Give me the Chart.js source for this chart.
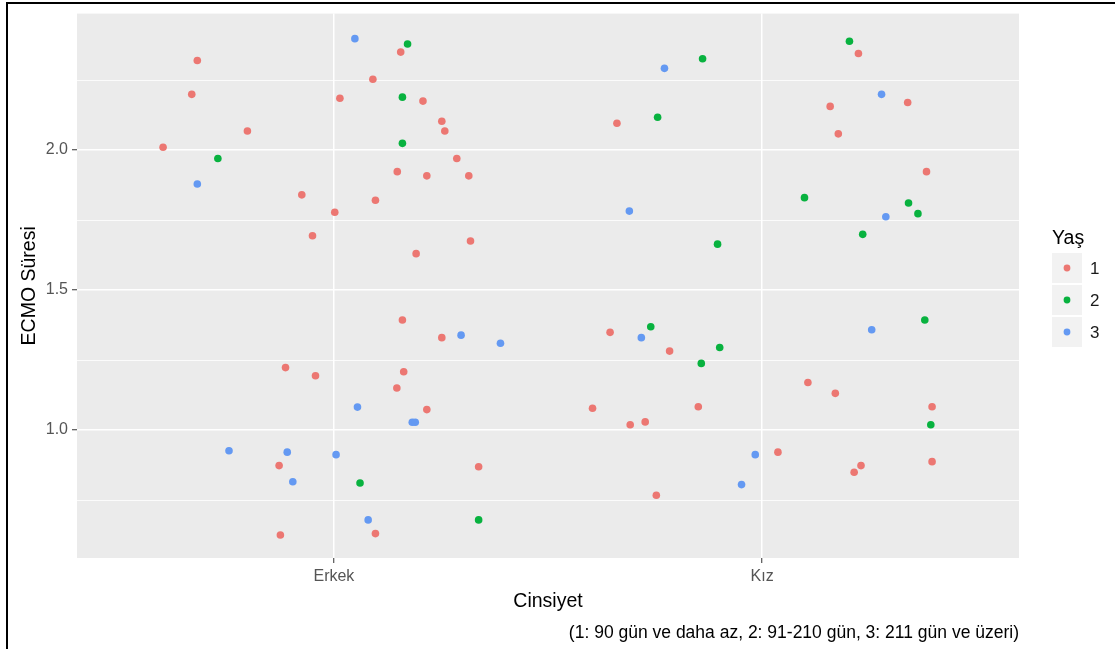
<!DOCTYPE html>
<html>
<head>
<meta charset="utf-8">
<script src="https://cdn.jsdelivr.net/npm/chart.js@4/dist/chart.umd.min.js"></script>
<style>
  html, body { margin: 0; padding: 0; background: #fff; }
  #wrap { position: relative; width: 1115px; height: 649px; overflow: hidden; }
  #frame { position: absolute; left: 6px; top: 2px; width: 2000px; height: 2000px;
           border-left: 2px solid #000; border-top: 2px solid #000; pointer-events: none; }
  canvas { position: absolute; left: 0; top: 0; }
</style>
</head>
<body>
<div id="wrap">
  <canvas id="c" width="1115" height="649"></canvas>
  <div id="frame"></div>
</div>
<script>
// ---- data ----
const categories = ['Erkek', 'Kız'];           // x positions 1 and 2 (points are jittered)
const groupLabels = ['1', '2', '3'];            // Yaş
const yTickLabels = [1.0, 1.5, 2.0];
const yMinorTicks = [0.75, 1.25, 1.75, 2.25];

const yas1X = [0.681,0.668,0.798,0.601,0.925,1.002,0.950,1.091,1.014,1.097,1.156,1.208,1.252,1.259,1.287,1.148,1.217,1.315,1.319,1.192,1.661,0.887,0.957,0.872,0.875,1.097,1.160,1.252,1.163,1.147,1.217,1.338,1.645,1.784,1.604,1.851,1.692,1.727,1.753,2.225,2.159,2.340,2.178,2.384,2.107,2.171,2.397,2.037,2.215,2.231,2.397];
const yas1Y = [2.320,2.199,2.068,2.010,1.840,1.778,1.694,2.253,2.185,1.821,2.350,2.175,2.103,2.068,1.970,1.923,1.908,1.908,1.675,1.630,2.096,1.223,1.194,0.873,0.625,0.630,1.393,1.330,1.208,1.150,1.073,0.869,1.349,1.282,1.078,1.083,1.019,1.029,0.767,2.345,2.156,2.170,2.058,1.923,1.170,1.131,1.083,0.921,0.849,0.873,0.887];

const yas2X = [0.729,1.172,1.160,1.160,1.061,1.338,1.756,1.861,2.204,2.099,2.342,2.364,2.235,1.896,1.740,1.858,1.901,2.380,2.394];
const yas2Y = [1.970,2.379,2.189,2.024,0.811,0.679,2.117,2.326,2.389,1.830,1.811,1.773,1.699,1.664,1.369,1.238,1.295,1.393,1.019];

const yas3X = [0.681,1.049,1.055,0.755,0.891,1.005,0.904,1.080,1.297,1.389,1.183,1.190,1.690,1.772,1.718,2.279,2.289,2.256,1.984,1.952];
const yas3Y = [1.879,2.398,1.082,0.926,0.921,0.912,0.815,0.679,1.339,1.310,1.028,1.028,1.782,2.292,1.330,2.199,1.762,1.358,0.912,0.805];

const colors = ['#EC7772', '#08B23F', '#6499F2'];
const xTitle = 'Cinsiyet';
const yTitle = 'ECMO Süresi';
const legendTitle = 'Yaş';
const caption = '(1: 90 gün ve daha az, 2: 91-210 gün, 3: 211 gün ve üzeri)';

function pts(xs, ys) { return xs.map((x, i) => ({ x: x, y: ys[i] })); }

const FONT = '"Liberation Sans", Arial, sans-serif';

const panelBg = {
  id: 'panelBg',
  beforeDraw(chart) {
    const { ctx, chartArea: a } = chart;
    ctx.save();
    ctx.fillStyle = '#EBEBEB';
    ctx.fillRect(a.left, a.top, a.right - a.left, a.bottom - a.top);
    ctx.restore();
  }
};

const extras = {
  id: 'extras',
  afterDraw(chart) {
    const { ctx, chartArea: a } = chart;
    ctx.save();
    // caption
    ctx.fillStyle = '#000';
    ctx.font = '17.5px ' + FONT;
    ctx.textAlign = 'right';
    ctx.textBaseline = 'middle';
    ctx.fillText(caption, a.right, 633);
    // legend
    ctx.textAlign = 'left';
    ctx.font = '19.5px ' + FONT;
    ctx.fillText(legendTitle, 1052, 239);
    const keyX = 1052, keyW = 30, keyH = 30, rowY = [268, 300, 332];
    groupLabels.forEach((lab, i) => {
      ctx.fillStyle = '#F2F2F2';
      ctx.fillRect(keyX, rowY[i] - keyH / 2, keyW, keyH);
      ctx.fillStyle = colors[i];
      ctx.beginPath();
      ctx.arc(keyX + keyW / 2, rowY[i], 3.4, 0, Math.PI * 2);
      ctx.fill();
      ctx.fillStyle = '#1A1A1A';
      ctx.font = '17px ' + FONT;
      ctx.fillText(lab, 1090, rowY[i] + 1);
    });
    ctx.restore();
  }
};

new Chart(document.getElementById('c'), {
  type: 'scatter',
  data: {
    datasets: [
      { label: groupLabels[0], data: pts(yas1X, yas1Y), backgroundColor: colors[0] },
      { label: groupLabels[1], data: pts(yas2X, yas2Y), backgroundColor: colors[1] },
      { label: groupLabels[2], data: pts(yas3X, yas3Y), backgroundColor: colors[2] }
    ]
  },
  options: {
    responsive: false,
    animation: false,
    devicePixelRatio: 1,
    layout: { padding: { top: 13.5, right: 96, left: 0, bottom: 0 } },
    elements: { point: { radius: 3.8, borderWidth: 0, hoverRadius: 3.8 } },
    plugins: { legend: { display: false }, tooltip: { enabled: false } },
    scales: {
      x: {
        type: 'linear',
        min: 0.4, max: 2.6,
        afterFit(s) { s.height = 91; },
        afterBuildTicks(s) { s.ticks = categories.map((c, i) => ({ value: i + 1 })); },
        ticks: {
          callback: (v) => categories[Math.round(v) - 1],
          color: '#555', font: { family: FONT, size: 16 }, padding: 4, maxRotation: 0, autoSkip: false
        },
        grid: { color: '#FFFFFF', lineWidth: 1.5, tickColor: '#333', tickLength: 5, tickWidth: 1 },
        border: { display: false },
        title: { display: true, text: xTitle, color: '#000', font: { family: FONT, size: 19.5 },
                 padding: { top: 0, bottom: 36 } }
      },
      y: {
        type: 'linear',
        min: 0.5429, max: 2.4875,
        afterFit(s) { s.width = 77; },
        afterBuildTicks(s) {
          s.ticks = yMinorTicks.concat(yTickLabels).sort((a, b) => a - b).map(v => ({ value: v }));
        },
        ticks: {
          callback: (v) => yTickLabels.some(t => Math.abs(t - v) < 1e-9) ? v.toFixed(1) : '',
          color: '#555', font: { family: FONT, size: 16 }, padding: 4, autoSkip: false
        },
        grid: {
          color: '#FFFFFF',
          lineWidth: (ctx) => yTickLabels.some(t => Math.abs(t - ctx.tick.value) < 1e-9) ? 1.5 : 0.8,
          tickColor: (ctx) => yTickLabels.some(t => Math.abs(t - ctx.tick.value) < 1e-9) ? '#333' : 'rgba(0,0,0,0)',
          tickLength: 5, tickWidth: 1
        },
        border: { display: false },
        title: { display: true, text: yTitle, color: '#000', font: { family: FONT, size: 19.5 },
                 padding: { top: 18, bottom: 0 } }
      }
    }
  },
  plugins: [panelBg, extras]
});
</script>
</body>
</html>
